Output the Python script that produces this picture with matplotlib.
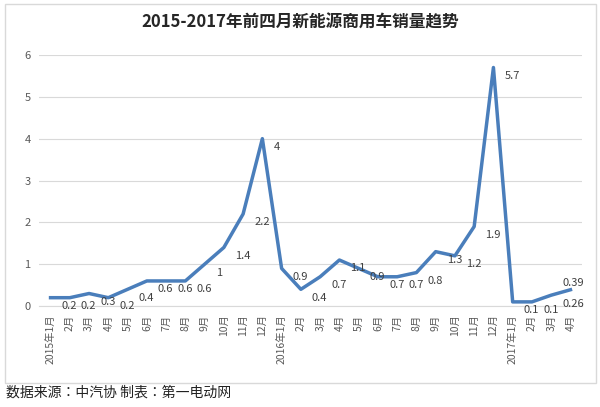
import matplotlib
matplotlib.use("Agg")
import matplotlib.pyplot as plt
from matplotlib import font_manager
from matplotlib.patches import Rectangle

cjk = None
for f in font_manager.fontManager.ttflist:
    if "CJK" in f.name and ("SC" in f.name or cjk is None):
        cjk = f.name
plt.rcParams["font.family"] = "sans-serif"
plt.rcParams["font.sans-serif"] = [n for n in [cjk, "Noto Sans CJK SC", "DejaVu Sans"] if n]

months = ["2015年1月","2月","3月","4月","5月","6月","7月","8月","9月","10月","11月","12月",
          "2016年1月","2月","3月","4月","5月","6月","7月","8月","9月","10月","11月","12月",
          "2017年1月","2月","3月","4月"]
values = [0.2,0.2,0.3,0.2,0.4,0.6,0.6,0.6,1,1.4,2.2,4,
          0.9,0.4,0.7,1.1,0.9,0.7,0.7,0.8,1.3,1.2,1.9,5.7,
          0.1,0.1,0.26,0.39]
labels = ["0.2","0.2","0.3","0.2","0.4","0.6","0.6","0.6","1","1.4","2.2","4",
          "0.9","0.4","0.7","1.1","0.9","0.7","0.7","0.8","1.3","1.2","1.9","5.7",
          "0.1","0.1","0.26","0.39"]
yticks = [0,1,2,3,4,5,6]

fig = plt.figure(figsize=(6, 4.07), dpi=100)
fig.patches.append(Rectangle((0.008, 0.06), 0.985, 0.93, transform=fig.transFigure,
                             fill=False, edgecolor="#d9d9d9", lw=1))
ax = fig.add_axes([0.065, 0.248, 0.905, 0.617])
x = list(range(len(values)))
ax.plot(x, values, color="#4a7ebb", lw=2.5)
for i, (xi, v, t) in enumerate(zip(x, values, labels)):
    off = (-6, 5) if i == len(values) - 1 else (8, -6)
    ax.annotate(t, (xi, v), xytext=off, textcoords="offset points",
                fontsize=8, color="#404040", ha="left", va="center")
ax.set_ylim(0, 6)
ax.set_xlim(-0.6, len(values) - 0.4)
ax.set_yticks(yticks)
ax.set_yticklabels([str(t) for t in yticks], fontsize=8, color="#595959")
ax.set_xticks(x)
ax.set_xticklabels(months, rotation=90, fontsize=7.5, color="#595959")
ax.grid(axis="y", color="#d9d9d9", lw=0.8)
ax.set_axisbelow(True)
for s in ["top", "right", "left"]:
    ax.spines[s].set_visible(False)
ax.spines["bottom"].set_color("#d9d9d9")
ax.tick_params(length=0, pad=6)
fig.text(0.5, 0.945, "2015-2017年前四月新能源商用车销量趋势", ha="center", va="center",
         fontsize=12, fontweight="bold", color="#262626")
fig.text(0.01, 0.035, "数据来源：中汽协 制表：第一电动网", ha="left", va="center",
         fontsize=10, color="#222222")
fig.savefig("out.png", dpi=100)
